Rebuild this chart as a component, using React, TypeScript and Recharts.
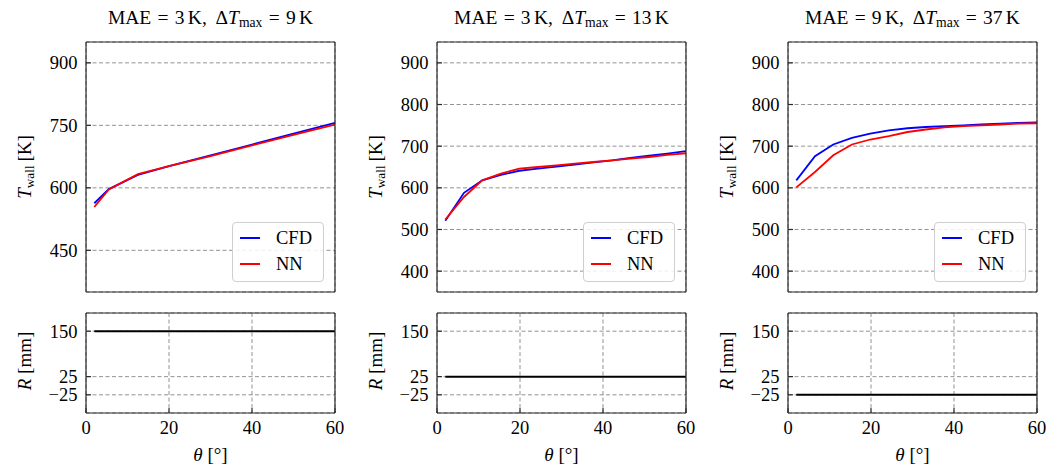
import { CartesianGrid, Legend, Line, LineChart, XAxis, YAxis } from "recharts";

const FONT = '"Liberation Serif", "DejaVu Serif", serif';
const INK = "#2a2a2a";
const GRID = "#777";

// numbers in the panel titles
const maeK = [3, 3, 9];
const dTmaxK = [9, 13, 37];

// panel 1 sampling
const theta1 = [2, 5.5, 12.5, 20, 30, 40, 50, 60];
const cfd1 = [563, 597, 631, 652, 678, 704, 730, 756];
const nn1 = [554, 596, 633, 652, 676, 702, 727, 752];

// panels 2 and 3 sampling
const theta23 = [2, 6.5, 10.9, 15.4, 19.8, 24.3, 28.8, 33.2, 37.7, 42.2, 46.6, 51.1, 55.5, 60];
const cfd2 = [521, 588, 618, 631, 641, 646, 651, 656, 661, 666, 672, 677, 682, 688];
const nn2 = [524, 578, 618, 634, 646, 650, 654, 658, 662, 666, 670, 674, 679, 683];
const cfd3 = [618, 676, 704, 720, 730, 738, 743, 746, 748, 750, 752, 754, 756, 757];
const nn3 = [601, 638, 678, 704, 716, 724, 734, 740, 745, 748, 750, 752, 754, 755];

// radius lines
const rTheta = [2, 60];
const r1 = [150, 150];
const r2 = [25, 25];
const r3 = [-25, -25];

// ticks
const thetaMajor = [0, 20, 40, 60];
const thetaMinor = [5, 10, 15, 25, 30, 35, 45, 50, 55];
const tMajor1 = [450, 600, 750, 900];
const tMinor1 = [375, 412.5, 487.5, 525, 562.5, 637.5, 675, 712.5, 787.5, 825, 862.5, 937.5];
const tMajor23 = [400, 500, 600, 700, 800, 900];
const tMinor23 = [
  360, 380, 420, 440, 460, 480, 520, 540, 560, 580, 620, 640, 660, 680,
  720, 740, 760, 780, 820, 840, 860, 880, 920, 940,
];
const rTicks = [-25, 25, 150];
const tDomain: [number, number] = [350, 950];
const rDomain: [number, number] = [-75, 200];

const PLOT_W = 249;
const TOP_Y = 42;
const TOP_H = 250;
const BOT_Y = 313;
const BOT_H = 100;
const PAD_L = 70;
const PAD_R = 20;
const plotLefts = [86, 437, 788];
const THIN = 0.01; // axes need a non-zero size to be drawn

const minus = (v: number) => (v < 0 ? `\u2212${-v}` : String(v));

function frame(xLabels: boolean, yMajor: number[], yMinor: number[], yDomain: [number, number]) {
  const line = { stroke: INK, strokeWidth: 1.2 };
  const lbl = { fontSize: 18.5, fill: "#000" };
  const c = { allowDataOverflow: true, type: "number" as const, interval: 0 as const, axisLine: line, tickLine: line };
  const axes = [
    <XAxis key="xb" dataKey="theta" {...c} domain={[0, 60]} ticks={thetaMajor} height={THIN} tickSize={-5} tickMargin={13} tick={xLabels ? lbl : false} />,
    <XAxis key="xbm" xAxisId="xbm" {...c} domain={[0, 60]} ticks={thetaMinor} height={THIN} tickSize={-2.5} tick={false} axisLine={false} />,
    <XAxis key="xt" xAxisId="xt" orientation="top" {...c} domain={[0, 60]} ticks={thetaMajor} height={THIN} tickSize={-5} tick={false} />,
    <XAxis key="xtm" xAxisId="xtm" orientation="top" {...c} domain={[0, 60]} ticks={thetaMinor} height={THIN} tickSize={-2.5} tick={false} axisLine={false} />,
    <YAxis key="yl" {...c} domain={yDomain} ticks={yMajor} width={THIN} tickSize={-5} tickMargin={13.5} tick={lbl} tickFormatter={minus} />,
    <YAxis key="yr" yAxisId="yr" orientation="right" {...c} domain={yDomain} ticks={yMajor} width={THIN} tickSize={-5} tick={false} />,
  ];
  if (yMinor.length) {
    axes.push(
      <YAxis key="ylm" yAxisId="ylm" {...c} domain={yDomain} ticks={yMinor} width={THIN} tickSize={-2.5} tick={false} axisLine={false} />,
      <YAxis key="yrm" yAxisId="yrm" orientation="right" {...c} domain={yDomain} ticks={yMinor} width={THIN} tickSize={-2.5} tick={false} axisLine={false} />
    );
  }
  return axes;
}

function LegendBox({ payload }: any) {
  return (
    <div
      style={{
        boxSizing: "border-box",
        width: 92,
        height: 60,
        padding: "2px 6px 6px 7px",
        border: "1px solid #cfcfcf",
        borderRadius: 4,
        background: "rgba(255,255,255,0.85)",
        fontFamily: FONT,
      }}
    >
      {(payload || []).map((p: any) => (
        <div key={p.value} style={{ display: "flex", alignItems: "center", height: 26 }}>
          <div style={{ width: 20, height: 2, background: p.color, marginRight: 16 }} />
          <span style={{ fontSize: 18.5, color: "#000" }}>{p.value}</span>
        </div>
      ))}
    </div>
  );
}

function TempChart({ idx, theta, cfd, nn, yMajor, yMinor }: any) {
  const data = theta.map((t: number, i: number) => ({ theta: t, cfd: cfd[i], nn: nn[i] }));
  return (
    <div style={{ position: "absolute", left: plotLefts[idx] - PAD_L, top: 0 }}>
      <LineChart
        width={PAD_L + PLOT_W + PAD_R}
        height={TOP_Y + TOP_H + 8}
        data={data}
        margin={{ top: TOP_Y, right: PAD_R, bottom: 8, left: PAD_L }}
      >
        <CartesianGrid stroke={GRID} strokeDasharray="4 2.5" strokeWidth={0.8} />
        <Line type="linear" dataKey="cfd" name="CFD" stroke="#0000ff" strokeWidth={1.8} dot={false} isAnimationActive={false} />
        <Line type="linear" dataKey="nn" name="NN" stroke="#ff0000" strokeWidth={1.8} dot={false} isAnimationActive={false} />
        {frame(false, yMajor, yMinor, tDomain)}
        <Legend
          layout="horizontal"
          verticalAlign="middle"
          align="center"
          wrapperStyle={{ left: PAD_L + PLOT_W - 11 - 92, top: TOP_Y + TOP_H - 10 - 60, width: 92 }}
          content={(props: any) => <LegendBox payload={props.payload} />}
        />
      </LineChart>
    </div>
  );
}

function RadiusChart({ idx, r }: any) {
  const data = rTheta.map((t, i) => ({ theta: t, r: r[i] }));
  return (
    <div style={{ position: "absolute", left: plotLefts[idx] - PAD_L, top: 300 }}>
      <LineChart
        width={PAD_L + PLOT_W + PAD_R}
        height={166}
        data={data}
        margin={{ top: BOT_Y - 300, right: PAD_R, bottom: 166 - (BOT_Y - 300) - BOT_H, left: PAD_L }}
      >
        <CartesianGrid stroke={GRID} strokeDasharray="4 2.5" strokeWidth={0.8} />
        <Line type="linear" dataKey="r" stroke="#000" strokeWidth={2} dot={false} isAnimationActive={false} />
        {frame(true, rTicks, [], rDomain)}
      </LineChart>
    </div>
  );
}

const eq = <span style={{ margin: "0 0.32em" }}>=</span>;

function Title({ idx }: { idx: number }) {
  return (
    <div
      style={{
        position: "absolute",
        left: plotLefts[idx] - 30,
        top: 8,
        width: PLOT_W + 60,
        textAlign: "center",
        fontSize: 19.5,
        lineHeight: "20px",
        whiteSpace: "nowrap",
      }}
    >
      MAE{eq}{maeK[idx]}
      <span style={{ marginLeft: "0.17em" }}>K</span>,{" "}
      <span style={{ marginLeft: "0.2em" }}>Δ</span>
      <i>T</i>
      <sub style={{ fontSize: "0.7em", verticalAlign: "-0.25em", lineHeight: 0 }}>max</sub>
      {eq}
      {dTmaxK[idx]}
      <span style={{ marginLeft: "0.17em" }}>K</span>
    </div>
  );
}

function VLabel({ cx, cy, children }: any) {
  return (
    <div
      style={{
        position: "absolute",
        left: cx,
        top: cy,
        transform: "translate(-50%, -50%) rotate(-90deg)",
        whiteSpace: "nowrap",
        fontSize: 19,
        lineHeight: "20px",
      }}
    >
      {children}
    </div>
  );
}

export default function App() {
  const temps = [
    { theta: theta1, cfd: cfd1, nn: nn1, yMajor: tMajor1, yMinor: tMinor1 },
    { theta: theta23, cfd: cfd2, nn: nn2, yMajor: tMajor23, yMinor: tMinor23 },
    { theta: theta23, cfd: cfd3, nn: nn3, yMajor: tMajor23, yMinor: tMinor23 },
  ];
  const radii = [r1, r2, r3];
  return (
    <div style={{ position: "absolute", left: 0, top: 0, width: 1061, height: 466, background: "#fff", fontFamily: FONT, color: "#000" }}>
      {temps.map((t, i) => (
        <TempChart key={`t${i}`} idx={i} {...t} />
      ))}
      {radii.map((r, i) => (
        <RadiusChart key={`r${i}`} idx={i} r={r} />
      ))}
      {plotLefts.map((L, i) => (
        <div key={`lab${i}`}>
          <Title idx={i} />
          <VLabel cx={L - 61} cy={TOP_Y + TOP_H / 2}>
            <i>T</i>
            <sub style={{ fontSize: "0.7em", verticalAlign: "-0.25em", lineHeight: 0 }}>wall</sub>
            <span style={{ marginLeft: "0.2em" }}>[K]</span>
          </VLabel>
          <VLabel cx={L - 61} cy={BOT_Y + BOT_H / 2 - 2}>
            <i>R</i>
            <span style={{ marginLeft: "0.25em" }}>[mm]</span>
          </VLabel>
          <div
            style={{
              position: "absolute",
              left: L,
              top: 445,
              width: PLOT_W,
              textAlign: "center",
              fontSize: 19,
              lineHeight: "20px",
            }}
          >
            <i>θ</i>
            <span style={{ marginLeft: "0.25em" }}>[°]</span>
          </div>
        </div>
      ))}
    </div>
  );
}
